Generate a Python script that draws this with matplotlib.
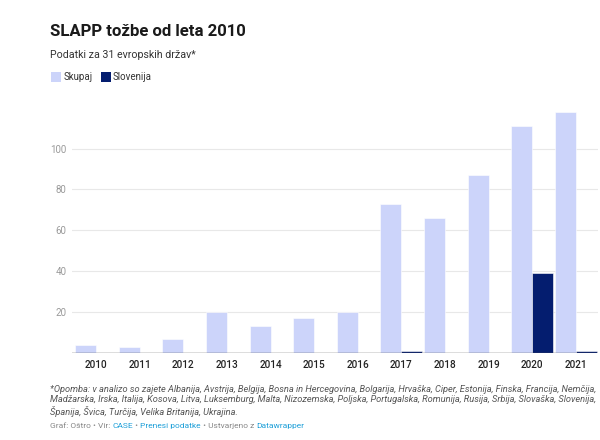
import matplotlib
matplotlib.use("Agg")
import matplotlib.pyplot as plt
import numpy as np
from matplotlib.patches import Rectangle

plt.rcParams['font.family'] = ['Roboto', 'DejaVu Sans']

years = ['2010', '2011', '2012', '2013', '2014', '2015', '2016', '2017', '2018', '2019', '2020', '2021']
skupaj = [4, 3, 7, 20, 13, 17, 20, 73, 66, 87, 111, 118]
slovenija = [0, 0, 0, 0, 0, 0, 0, 1, 0, 0, 39, 1]
series_names = ['Skupaj', 'Slovenija']
yticks = [20, 40, 60, 80, 100]

c_sk = '#ccd4fa'
c_sl = '#041d6f'

fig = plt.figure(figsize=(6, 4.4), dpi=100)
ax = fig.add_axes([0.12, 0.198, 0.877, 0.557])

x = np.arange(len(years))
w = 0.48
ax.bar(x - w / 2, skupaj, width=w, color=c_sk, edgecolor='white', linewidth=0.4)
ax.bar(x + w / 2, slovenija, width=w, color=c_sl, edgecolor='white', linewidth=0.4)

ax.set_xlim(-0.55, 11.51)
ax.set_ylim(0, 120)
ax.set_yticks(yticks)
ax.set_yticklabels([str(t) for t in yticks], color='#9a9a9a', fontsize=7.0)
ax.set_xticks(x)
ax.set_xticklabels(years, fontsize=7.2, color='#222222', fontweight='medium')
ax.tick_params(axis='both', length=0)
ax.tick_params(axis='y', pad=4)
ax.tick_params(axis='x', pad=5)
for s in ax.spines.values():
    s.set_visible(False)
ax.grid(axis='y', color='#e8e8e8', linewidth=0.8)
ax.set_axisbelow(True)
ax.axhline(0, color='#555555', linewidth=1.0, zorder=3)

# Titles
fig.text(50 / 600, 1 - 31 / 440, 'SLAPP tožbe od leta 2010', fontsize=12.1, fontweight='bold',
         color='#1a1a1a', va='center', ha='left')
fig.text(50 / 600, 1 - 55 / 440, 'Podatki za 31 evropskih držav*', fontsize=7.7,
         color='#333333', va='center', ha='left')

# Legend
ly = 1 - 77.5 / 440
sw, sh = 10, 10
fig.patches.append(Rectangle((51 / 600, ly - 5 / 440), sw / 600, sh / 440, transform=fig.transFigure,
                             facecolor=c_sk, edgecolor='none'))
fig.text(64 / 600, ly, series_names[0], fontsize=7.0, color='#333333', va='center', ha='left')
fig.patches.append(Rectangle((101 / 600, ly - 5 / 440), sw / 600, sh / 440, transform=fig.transFigure,
                             facecolor=c_sl, edgecolor='none'))
fig.text(113 / 600, ly, series_names[1], fontsize=7.0, color='#333333', va='center', ha='left')

# Footnote
note = ('*Opomba: v analizo so zajete Albanija, Avstrija, Belgija, Bosna in Hercegovina, Bolgarija, Hrvaška, Ciper, Estonija, Finska, Francija, Nemčija,\n'
        'Madžarska, Irska, Italija, Kosova, Litva, Luksemburg, Malta, Nizozemska, Poljska, Portugalska, Romunija, Rusija, Srbija, Slovaška, Slovenija,\n'
        'Španija, Švica, Turčija, Velika Britanija, Ukrajina.')
fig.text(50 / 600, 1 - 385 / 440, note, fontsize=6.65, style='italic', color='#555555',
         va='top', ha='left', linespacing=1.17)

# Credit line
pieces = [('Graf: Oštro • Vir: ', '#888888'), ('CASE', '#1d9fd8'), (' • ', '#888888'),
          ('Prenesi podatke', '#1d9fd8'), (' • Ustvarjeno z ', '#888888'), ('Datawrapper', '#1d9fd8')]
fig.canvas.draw()
r = fig.canvas.get_renderer()
cx = 50
for txt, col in pieces:
    t = fig.text(cx / 600, 1 - 426 / 440, txt, fontsize=6.05, color=col, va='center', ha='left')
    bb = t.get_window_extent(renderer=r)
    cx += bb.width

fig.savefig('out.png', dpi=100)
